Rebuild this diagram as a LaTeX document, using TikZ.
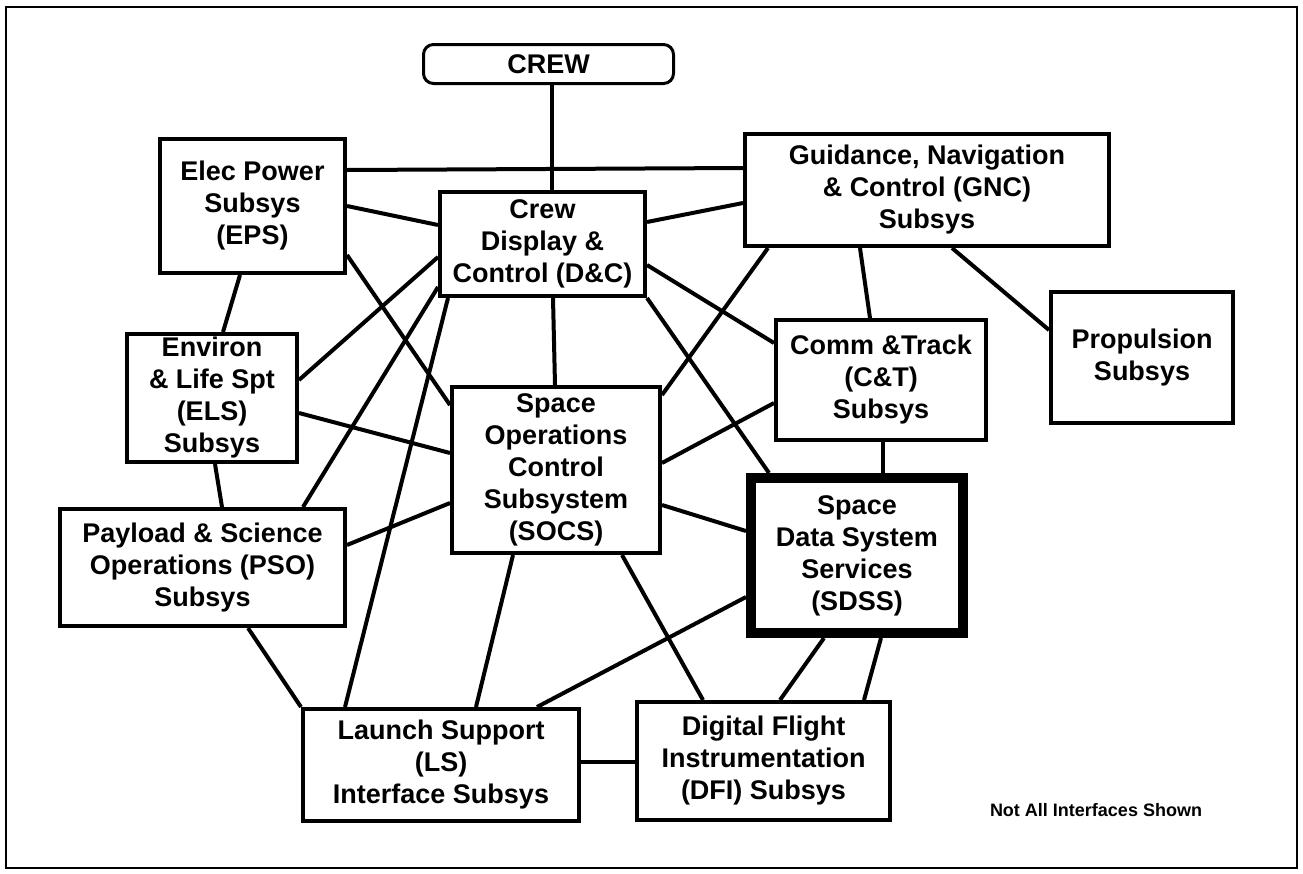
\documentclass[tikz,border=0pt]{standalone}
\usepackage{fontspec}
\setmainfont{Liberation Sans}
\usepackage{tikz}

\begin{document}
\begin{tikzpicture}[x=1pt, y=-1pt,
    box/.style={draw, line width=4pt, align=center, inner sep=0pt, fill=white,
        font=\fontsize{27}{32}\selectfont\bfseries},
    link/.style={line width=4pt}]
        \fill[white] (0,0) rectangle (1303,873);
        \useasboundingbox (0,0) rectangle (1303,873);
        \draw[line width=2.5pt] (6,7) rectangle (1297,868);

        \node (CREW) [box, line width=3pt, rounded corners=10pt, minimum width=250pt, minimum height=39pt] at (548.5,64) {CREW};
        \node (EPS) [box, minimum width=185pt, minimum height=134pt] at (252.5,206) {Elec Power\\Subsys\\(EPS)};
        \node (DC) [box, minimum width=205pt, minimum height=104pt] at (542.5,244) {Crew\\Display \&\\Control (D\&C)};
        \node (GNC) [box, minimum width=364pt, minimum height=112pt] at (927,190) {Guidance, Navigation\\\& Control (GNC)\\Subsys};
        \node (PROP) [box, minimum width=182pt, minimum height=131pt] at (1142,357.5) {Propulsion\\Subsys};
        \node (CT) [box, minimum width=210pt, minimum height=120pt] at (881,380) {Comm \&Track\\(C\&T)\\Subsys};
        \node (ELS) [box, minimum width=170pt, minimum height=128pt] at (212,398) {Environ\\\& Life Spt\\(ELS)\\Subsys};
        \node (SOCS) [box, minimum width=208pt, minimum height=166pt] at (556,470) {Space\\Operations\\Control\\Subsystem\\(SOCS)};
        \node (SDSS) [box, line width=10pt, minimum width=212pt, minimum height=155pt] at (857,555.5) {Space\\Data System\\Services\\(SDSS)};
        \node (PSO) [box, minimum width=285pt, minimum height=117pt] at (202.5,567.5) {Payload \& Science\\Operations (PSO)\\Subsys};
        \node (LS) [box, minimum width=276pt, minimum height=112pt] at (441,765) {Launch Support\\(LS)\\Interface Subsys};
        \node (DFI) [box, minimum width=253pt, minimum height=118pt] at (763.5,761) {Digital Flight\\Instrumentation\\(DFI) Subsys};
        \node (note) [font=\fontsize{18}{20}\selectfont\bfseries] at (1096,810) {Not All Interfaces Shown};

        \draw[link] (CREW.south -| 552,0) -- (DC.north -| 552,0);
        \draw[link] (EPS.east |- 0,170) -- (GNC.west |- 0,168);
        \draw[link] (EPS.east |- 0,206) -- (DC.west |- 0,225);
        \draw[link] (DC.east |- 0,222) -- (GNC.west |- 0,203);
        \draw[link] (EPS.south -| 240,0) -- (ELS.north -| 223,0);
        \draw[link] (EPS.east |- 0,255) -- (SOCS.west |- 0,405);
        \draw[link] (DC.west |- 0,257) -- (ELS.east |- 0,380);
        \draw[link] (DC.west |- 0,287) -- (PSO.north -| 303,0);
        \draw[link] (DC.south -| 448,0) -- (LS.north -| 345,0);
        \draw[link] (DC.south -| 553,0) -- (SOCS.north -| 555,0);
        \draw[link] (DC.east |- 0,265) -- (CT.west |- 0,343);
        \draw[link] (DC.south east) -- (SDSS.north -| 769,0);
        \draw[link] (GNC.south -| 768,0) -- (SOCS.east |- 0,395);
        \draw[link] (GNC.south -| 860,0) -- (CT.north -| 870,0);
        \draw[link] (GNC.south -| 952,0) -- (PROP.west |- 0,330);
        \draw[link] (ELS.east |- 0,413) -- (SOCS.west |- 0,453);
        \draw[link] (ELS.south -| 215,0) -- (PSO.north -| 222,0);
        \draw[link] (PSO.east |- 0,545) -- (SOCS.west |- 0,503);
        \draw[link] (PSO.south -| 248,0) -- (LS.north west);
        \draw[link] (SOCS.east |- 0,463) -- (CT.west |- 0,403);
        \draw[link] (SOCS.east |- 0,505) -- (SDSS.west |- 0,531);
        \draw[link] (SOCS.south -| 513,0) -- (LS.north -| 476,0);
        \draw[link] (SOCS.south -| 622,0) -- (DFI.north -| 703,0);
        \draw[link] (CT.south -| 883,0) -- (SDSS.north -| 883,0);
        \draw[link] (SDSS.west |- 0,597) -- (LS.north -| 537,0);
        \draw[link] (SDSS.south -| 824,0) -- (DFI.north -| 780,0);
        \draw[link] (SDSS.south -| 881,0) -- (DFI.north -| 864,0);
        \draw[link] (LS.east |- 0,762) -- (DFI.west |- 0,762);
    \end{tikzpicture}
\end{document}
